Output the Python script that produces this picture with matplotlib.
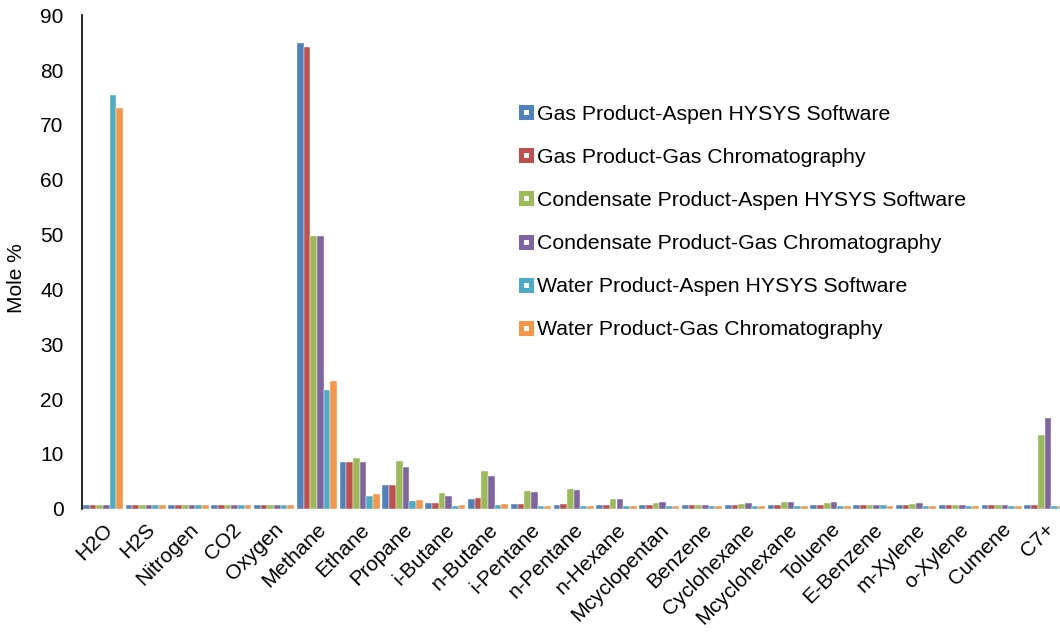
import numpy as np
import matplotlib
matplotlib.use("Agg")
import matplotlib.pyplot as plt
from matplotlib.lines import Line2D

plt.rcParams['font.family'] = ['Liberation Sans', 'DejaVu Sans']

components = ["H2O", "H2S", "Nitrogen", "CO2", "Oxygen", "Methane", "Ethane",
              "Propane", "i-Butane", "n-Butane", "i-Pentane", "n-Pentane",
              "n-Hexane", "Mcyclopentan", "Benzene", "Cyclohexane",
              "Mcyclohexane", "Toluene", "E-Benzene", "m-Xylene", "o-Xylene",
              "Cumene", "C7+"]

# mole % per component
gas_hysys = [0.6, 0.6, 0.65, 0.65, 0.6, 85.0, 8.5, 4.3, 1.0, 1.75, 0.8, 0.67,
             0.6, 0.6, 0.6, 0.6, 0.6, 0.6, 0.6, 0.6, 0.6, 0.6, 0.6]
gas_gc = [0.7, 0.6, 0.7, 0.7, 0.6, 84.2, 8.5, 4.4, 1.0, 1.95, 0.85, 0.85,
          0.6, 0.6, 0.6, 0.6, 0.6, 0.6, 0.6, 0.6, 0.6, 0.6, 0.6]
cond_hysys = [0.6, 0.6, 0.65, 0.6, 0.6, 49.7, 9.3, 8.7, 2.8, 6.8, 3.2, 3.6,
              1.75, 1.1, 0.6, 0.9, 1.15, 1.05, 0.6, 0.9, 0.6, 0.6, 13.4]
cond_gc = [0.6, 0.6, 0.6, 0.6, 0.6, 49.7, 8.5, 7.6, 2.4, 5.95, 3.05, 3.4,
           1.75, 1.15, 0.65, 0.95, 1.2, 1.15, 0.7, 0.95, 0.7, 0.7, 16.6]
water_hysys = [75.4, 0.6, 0.6, 0.6, 0.6, 21.6, 2.4, 1.35, 0.55, 0.75, 0.55, 0.55,
               0.55, 0.55, 0.55, 0.55, 0.55, 0.55, 0.6, 0.55, 0.55, 0.55, 0.55]
water_gc = [73.0, 0.6, 0.6, 0.6, 0.6, 23.3, 2.7, 1.6, 0.65, 0.85, 0.55, 0.55,
            0.55, 0.55, 0.55, 0.55, 0.55, 0.55, 0.55, 0.55, 0.55, 0.55, 0.55]

series = [
    ("Gas Product-Aspen HYSYS Software", gas_hysys, "#4F81BD"),
    ("Gas Product-Gas Chromatography", gas_gc, "#C0504D"),
    ("Condensate Product-Aspen HYSYS Software", cond_hysys, "#9BBB59"),
    ("Condensate Product-Gas Chromatography", cond_gc, "#8064A2"),
    ("Water Product-Aspen HYSYS Software", water_hysys, "#4BACC6"),
    ("Water Product-Gas Chromatography", water_gc, "#F79646"),
]

fs = 15
fig = plt.figure(figsize=(10.6, 6.32), dpi=100)
ax = fig.add_axes([81.5 / 1060, (632 - 508.7) / 632, 984.4 / 1060, 493.4 / 632])

x = np.arange(len(components))
w = 0.1565
for k, (name, vals, col) in enumerate(series):
    ax.bar(x + (k - 2.5) * w, vals, width=w, color=col, edgecolor='white',
           linewidth=0.3)

ax.set_xlim(-0.5, len(components) - 0.5)
ax.set_ylim(0, 90)
ax.set_yticks(np.arange(0, 91, 10))
ax.set_xticks(x)
ax.set_xticklabels(components, rotation=45, ha='right', va='top',
                   rotation_mode='anchor', fontsize=fs)
ax.tick_params(axis='y', length=0, pad=13, labelsize=fs)
ax.tick_params(axis='x', length=0, pad=8)
for s in ['top', 'right', 'bottom']:
    ax.spines[s].set_visible(False)
ax.spines['left'].set_linewidth(1.2)

fig.text(17 / 1060, 1 - 278 / 632, "Mole %", rotation=90, ha='center',
         va='center', fontsize=fs)

# Excel-style legend keys: coloured square with a white centre
handles = [Line2D([], [], linestyle='none', marker='s', markersize=7.2,
                  markerfacecolor='white', markeredgecolor=col,
                  markeredgewidth=3.6) for _, _, col in series]
fig.legend(handles, [s[0] for s in series], loc='upper left',
           bbox_to_anchor=(0.489, 0.834), frameon=False, fontsize=15.3,
           handlelength=0.7, handletextpad=0.2, labelspacing=1.13,
           borderpad=0, borderaxespad=0)

fig.savefig("out.png", dpi=100)
